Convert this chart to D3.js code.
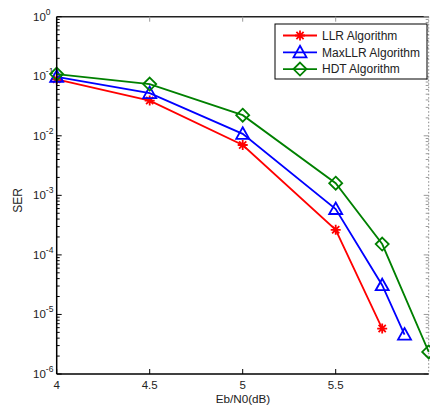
<!DOCTYPE html>
<html>
<head>
<meta charset="utf-8">
<script src="https://cdn.jsdelivr.net/npm/d3@7"></script>
<style>
  html, body { margin: 0; padding: 0; background: #fff; }
  svg { display: block; font-family: "Liberation Sans", Arial, sans-serif; }
</style>
</head>
<body>
<svg id="chart" width="430" height="406"></svg>
<script>
// SER vs Eb/N0 for three detection algorithms
const xTicks = [4, 4.5, 5, 5.5];
const yTickExponents = [0, -1, -2, -3, -4, -5, -6];

const llrX = [4, 4.5, 5, 5.5, 5.75];
const llrSER = [0.089, 0.039, 0.0070, 2.64e-4, 5.8e-6];

const maxllrX = [4, 4.5, 5, 5.5, 5.75, 5.87];
const maxllrSER = [0.098, 0.052, 0.0108, 5.9e-4, 3.1e-5, 4.6e-6];

const hdtX = [4, 4.5, 5, 5.5, 5.75, 6];
const hdtSER = [0.109, 0.074, 0.0222, 1.6e-3, 1.52e-4, 2.35e-6];

const seriesNames = ["LLR Algorithm", "MaxLLR Algorithm", "HDT Algorithm"];
const seriesColors = ["#ff0000", "#0000ff", "#008000"];
const seriesMarkers = ["star", "triangle", "diamond"];

const series = [
  { xs: llrX, ys: llrSER },
  { xs: maxllrX, ys: maxllrSER },
  { xs: hdtX, ys: hdtSER }
].map((s, i) => ({ ...s, name: seriesNames[i], color: seriesColors[i], marker: seriesMarkers[i] }));

const svg = d3.select("#chart");
const plotLeft = 56.7, plotRight = 428.7, plotTop = 16.7, plotBottom = 374;
const lineW = 1.8;

const x = d3.scaleLinear().domain([4, 6]).range([plotLeft, plotRight]);
const y = d3.scaleLog().domain([1, 1e-6]).range([plotTop, plotBottom]);

// marker shapes
function markerPath(type) {
  if (type === "star") {
    const r = 5, d = r * 0.72;
    return `M${-r},0L${r},0M0,${-r}L0,${r}M${-d},${-d}L${d},${d}M${-d},${d}L${d},${-d}`;
  }
  if (type === "triangle") {
    return "M0,-6.5L6.5,5L-6.5,5Z";
  }
  return "M0,-6.5L6.5,0L0,6.5L-6.5,0Z";
}

// frame: top solid, right dotted
svg.append("line").attr("x1", plotLeft).attr("x2", plotRight).attr("y1", plotTop).attr("y2", plotTop)
  .attr("stroke", "#222").attr("stroke-width", 1.5);
svg.append("line").attr("x1", plotRight).attr("x2", plotRight).attr("y1", plotTop).attr("y2", plotBottom)
  .attr("stroke", "#888").attr("stroke-width", 1).attr("stroke-dasharray", "1.5,2");

// minor + major ticks along the log axis (both sides)
const minorVals = [];
for (let e = -6; e < 0; e++) {
  for (let m = 2; m <= 9; m++) minorVals.push(m * Math.pow(10, e));
}
const ticksG = svg.append("g");
minorVals.forEach(v => {
  ticksG.append("line").attr("x1", plotLeft).attr("x2", plotLeft + 3)
    .attr("y1", y(v)).attr("y2", y(v)).attr("stroke", "#000").attr("stroke-width", 1);
  ticksG.append("line").attr("x1", plotRight).attr("x2", plotRight - 3)
    .attr("y1", y(v)).attr("y2", y(v)).attr("stroke", "#999").attr("stroke-width", 1);
});
yTickExponents.forEach(e => {
  const v = Math.pow(10, e);
  ticksG.append("line").attr("x1", plotLeft).attr("x2", plotLeft + 5)
    .attr("y1", y(v)).attr("y2", y(v)).attr("stroke", "#000").attr("stroke-width", 1);
  ticksG.append("line").attr("x1", plotRight).attr("x2", plotRight - 5)
    .attr("y1", y(v)).attr("y2", y(v)).attr("stroke", "#999").attr("stroke-width", 1);
});
xTicks.forEach(v => {
  ticksG.append("line").attr("x1", x(v)).attr("x2", x(v))
    .attr("y1", plotBottom).attr("y2", plotBottom - 5).attr("stroke", "#000").attr("stroke-width", 1);
  ticksG.append("line").attr("x1", x(v)).attr("x2", x(v))
    .attr("y1", plotTop).attr("y2", plotTop + 5).attr("stroke", "#999").attr("stroke-width", 1);
});

// y tick labels as 10^e
const yLab = svg.append("g").attr("font-size", 11.5).attr("fill", "#222");
yTickExponents.forEach(e => {
  const t = yLab.append("text").attr("x", 33).attr("y", y(Math.pow(10, e)) + 4);
  t.append("tspan").text("10");
  t.append("tspan").attr("dy", -6).attr("font-size", 8.5).text(String(e));
});

// x tick labels
svg.append("g").attr("font-size", 11.5).attr("fill", "#222")
  .selectAll("text").data(xTicks).join("text")
  .attr("x", d => x(d)).attr("y", 389).attr("text-anchor", "middle")
  .text(d => d3.format("")(d));

// axis titles
svg.append("text").attr("x", 243).attr("y", 403).attr("text-anchor", "middle")
  .attr("font-size", 11.7).attr("fill", "#222").text("Eb/N0(dB)");
svg.append("text").attr("transform", `translate(22,${(plotTop + plotBottom) / 2 + 5}) rotate(-90)`)
  .attr("text-anchor", "middle").attr("font-size", 12).attr("fill", "#222").text("SER");

// series lines and markers
const plotG = svg.append("g");
const line = d3.line().x(d => x(d[0])).y(d => y(d[1]));
series.forEach(s => {
  const pts = s.xs.map((v, i) => [v, s.ys[i]]);
  plotG.append("path").datum(pts).attr("d", line)
    .attr("fill", "none").attr("stroke", s.color).attr("stroke-width", lineW);
  plotG.selectAll(null).data(pts).join("path")
    .attr("transform", d => `translate(${x(d[0])},${y(d[1])})`)
    .attr("d", markerPath(s.marker))
    .attr("fill", "none").attr("stroke", s.color).attr("stroke-width", lineW);
});

// axis lines (left, bottom)
svg.append("line").attr("x1", plotLeft).attr("x2", plotLeft).attr("y1", plotTop).attr("y2", plotBottom)
  .attr("stroke", "#000").attr("stroke-width", 1.5);
svg.append("line").attr("x1", plotLeft).attr("x2", plotRight).attr("y1", plotBottom).attr("y2", plotBottom)
  .attr("stroke", "#000").attr("stroke-width", 1.5);

// legend
const lg = svg.append("g");
lg.append("rect").attr("x", 275).attr("y", 24).attr("width", 152).attr("height", 55)
  .attr("fill", "#fff").attr("stroke", "#000").attr("stroke-width", 1);
series.forEach((s, i) => {
  const cy = 35.5 + i * 16.8;
  lg.append("line").attr("x1", 283).attr("x2", 317).attr("y1", cy).attr("y2", cy)
    .attr("stroke", s.color).attr("stroke-width", lineW);
  lg.append("path").attr("transform", `translate(300,${cy})`).attr("d", markerPath(s.marker))
    .attr("fill", "none").attr("stroke", s.color).attr("stroke-width", lineW);
  lg.append("text").attr("x", 322).attr("y", cy + 4.3).attr("font-size", 12).attr("fill", "#222")
    .text(s.name);
});
</script>
</body>
</html>
